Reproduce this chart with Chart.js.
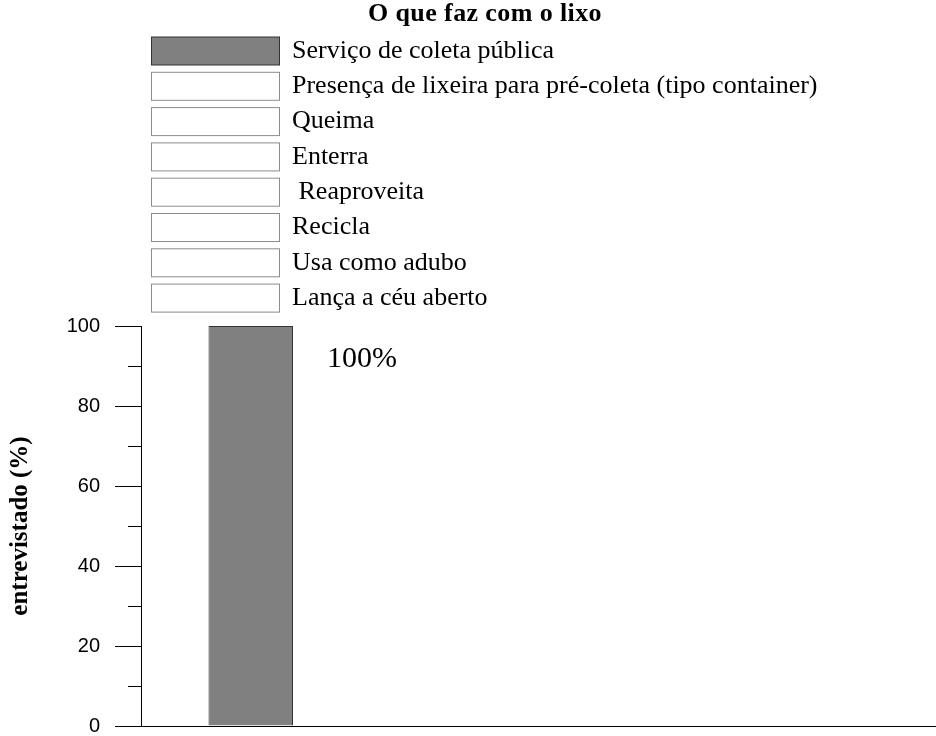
<!DOCTYPE html>
<html>
<head>
<meta charset="utf-8">
<script src="https://cdn.jsdelivr.net/npm/chart.js@4/dist/chart.umd.min.js"></script>
<style>
  html, body { margin: 0; padding: 0; background: #fff; }
  #wrap { width: 936px; height: 736px; }
</style>
</head>
<body>
<div id="wrap"><canvas id="lixo-chart" width="936" height="736"></canvas></div>
<script>
const chartTitle = "O que faz com o lixo";
const axisTitle = "entrevistado (%)";
const categories = [""];
const seriesNames = [
    "Serviço de coleta pública",
    "Presença de lixeira para pré-coleta (tipo container)",
    "Queima",
    "Enterra",
    " Reaproveita",
    "Recicla",
    "Usa como adubo",
    "Lança a céu aberto",
];
const seriesValues = [100, 0, 0, 0, 0, 0, 0, 0];
const seriesFill = ["#808080", "#ffffff", "#ffffff", "#ffffff", "#ffffff", "#ffffff", "#ffffff", "#ffffff"];
const seriesBorder = ["#333333", "#8c8c8c", "#8c8c8c", "#8c8c8c", "#8c8c8c", "#8c8c8c", "#8c8c8c", "#8c8c8c"];
const yTicks = { min: 0, max: 100, step: 10, labelEvery: 20 };

const SERIF = "'Liberation Serif', 'Times New Roman', serif";
const SANS = "'Liberation Sans', Arial, sans-serif";

// title plus a vertical list of boxes, one per series
const headerLegend = {
    id: "headerLegend",
    afterDraw(chart) {
        const ctx = chart.ctx;
        ctx.save();
        ctx.fillStyle = "#000";
        ctx.font = "bold 26px " + SERIF;
        ctx.letterSpacing = "0.4px";
        ctx.textAlign = "center";
        ctx.textBaseline = "alphabetic";
        ctx.fillText(chartTitle, 485, 21);
        ctx.letterSpacing = "0px";

        ctx.font = "26px " + SERIF;
        ctx.textAlign = "left";
        ctx.textBaseline = "middle";
        chart.data.datasets.forEach((ds, i) => {
            const top = 37 + i * 35.3;
            ctx.fillStyle = ds.backgroundColor;
            ctx.fillRect(151.5, top, 128, 28);
            ctx.strokeStyle = ds.borderColor;
            ctx.lineWidth = 1;
            ctx.strokeRect(151.5, top, 128, 28);
            ctx.fillStyle = "#000";
            ctx.fillText(ds.label, 292, top + 14);
        });
        ctx.restore();
    },
};

// percentage written to the right of each non-empty bar
const valueLabels = {
    id: "valueLabels",
    afterDatasetsDraw(chart) {
        const ctx = chart.ctx;
        ctx.save();
        ctx.fillStyle = "#000";
        ctx.font = "30px " + SERIF;
        ctx.textAlign = "left";
        ctx.textBaseline = "alphabetic";
        chart.data.datasets.forEach((ds, i) => {
            const meta = chart.getDatasetMeta(i);
            meta.data.forEach((bar, j) => {
                const v = ds.data[j];
                if (!v) return;
                ctx.fillText(v + "%", bar.x + bar.width / 2 + 34, bar.y + 41);
            });
        });
        ctx.restore();
    },
};

new Chart(document.getElementById("lixo-chart"), {
    type: "bar",
    data: {
        labels: categories,
        datasets: seriesNames.map((name, i) => ({
            label: name,
            data: [seriesValues[i]],
            backgroundColor: seriesFill[i],
            borderColor: seriesBorder[i],
            borderWidth: 1,
            borderSkipped: "start",
            categoryPercentage: 0.8273,
            barPercentage: 1.028,
        })),
    },
    options: {
        responsive: false,
        animation: false,
        events: [],
        layout: { padding: { top: 326, bottom: 10, left: 0, right: 0 } },
        plugins: {
            legend: { display: false },
            title: { display: false },
            tooltip: { enabled: false },
        },
        scales: {
            x: { display: false },
            y: {
                min: yTicks.min,
                max: yTicks.max,
                afterFit(scale) {
                    scale.width = 141;
                    scale.paddingTop = 0;
                    scale.paddingBottom = 0;
                },
                border: { display: true, color: "#000", width: 1 },
                grid: {
                    drawOnChartArea: true,
                    color: (c) => (c.tick && c.tick.value === 0 ? "#000" : "rgba(0,0,0,0)"),
                    tickColor: "#000",
                    tickLength: 26,
                    tickBorderDash: (c) => (c.tick && c.tick.value % yTicks.labelEvery !== 0 ? [0, 13, 13, 0] : []),
                },
                ticks: {
                    stepSize: yTicks.step,
                    padding: 15,
                    color: "#000",
                    font: { family: SANS, size: 20, lineHeight: 1.0 },
                    callback: (v) => (v % yTicks.labelEvery === 0 ? v : ""),
                },
                title: {
                    display: true,
                    text: axisTitle,
                    color: "#000",
                    font: { family: SERIF, size: 25, weight: "bold" },
                    padding: { top: 6, bottom: 0 },
                },
            },
        },
    },
    plugins: [headerLegend, valueLabels],
});
</script>
</body>
</html>
